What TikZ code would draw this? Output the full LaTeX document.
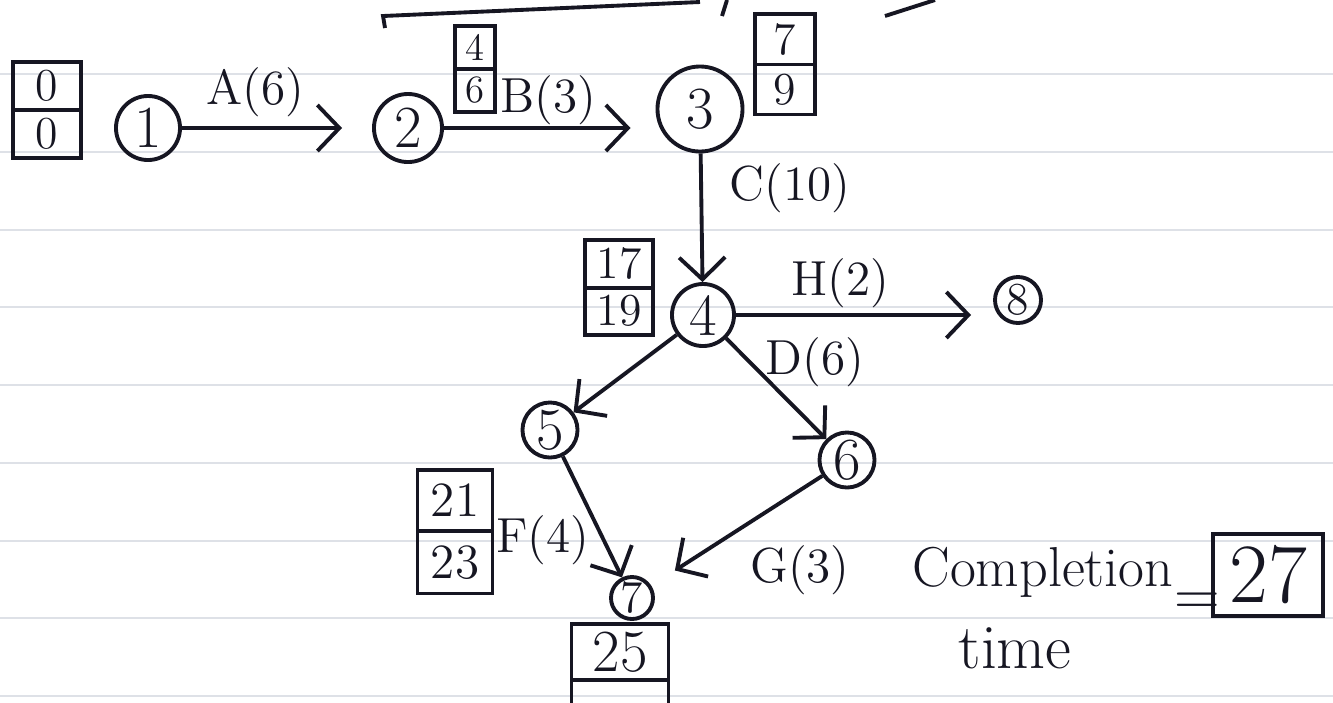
\documentclass[tikz,border=0pt]{standalone}
\usetikzlibrary{arrows.meta,shapes.multipart}
\definecolor{inkc}{RGB}{22,22,34}
\definecolor{rulec}{RGB}{222,225,231}
\begin{document}
\begin{tikzpicture}[x=0.01cm,y=-0.01cm,
  ev/.style={circle, draw=inkc, line width=1.1pt, inner sep=0pt, text=inkc, font=\fontsize{17}{19}\selectfont},
  tbox/.style={rectangle split, rectangle split parts=2, draw=inkc, line width=1.1pt, inner xsep=1pt, inner ysep=2pt, text=inkc, anchor=north},
  act/.style={draw=inkc, line width=1.1pt, -{Straight Barb[length=2.2mm,width=4.6mm]}},
  lbl/.style={text=inkc, inner sep=1pt, font=\fontsize{14}{16}\selectfont},
  inkline/.style={draw=inkc, line width=1.1pt}]
\useasboundingbox (0,0) rectangle (1333,702);
\clip (0,0) rectangle (1333,702);
\fill[white] (0,0) rectangle (1333,702);
% ruled paper
\foreach \yy in {74,152,230,307,385,463,541,618,696}
  \draw[rulec, line width=0.8pt] (0,\yy) -- (1333,\yy);
% fragments at the top edge
\draw[inkline] (385,28) -- (383,16) -- (700,2);
\draw[inkline] (722,16) -- (727,0);
\draw[inkline] (885,16) -- (935,0);
% events
\node[ev, minimum size=0.64cm] (n1) at (148,128) {1};
\node[ev, minimum size=0.68cm] (n2) at (408,128) {2};
\node[ev, minimum size=0.85cm] (n3) at (700,109) {3};
\node[ev, minimum size=0.62cm] (n4) at (703,315) {4};
\node[ev, minimum size=0.46cm, font=\fontsize{13}{15}\selectfont] (n8) at (1018,300) {8};
\node[ev, minimum size=0.55cm] (n5) at (550,430) {5};
\node[ev, minimum size=0.55cm] (n6) at (847,460) {6};
\node[ev, minimum size=0.42cm, font=\fontsize{13}{15}\selectfont] (n7) at (632,598) {7};
% time boxes
\node[tbox, minimum width=0.68cm, inner ysep=1.8pt, font=\fontsize{13}{15}\selectfont] (b1) at (47,60) {0\nodepart{two}0};
\node[tbox, minimum width=0.40cm, inner ysep=1.8pt, font=\fontsize{11}{13}\selectfont] (b2) at (475,24) {4\nodepart{two}6};
\node[tbox, minimum width=0.60cm, inner ysep=2.1pt, font=\fontsize{13}{15}\selectfont] (b3) at (785,12) {7\nodepart{two}9};
\node[tbox, minimum width=0.68cm, inner ysep=1.7pt, font=\fontsize{13}{15}\selectfont] (b4) at (619,238) {17\nodepart{two}19};
\node[tbox, minimum width=0.75cm, inner ysep=3.5pt, font=\fontsize{14}{16}\selectfont] (b7) at (455,468) {21\nodepart{two}23};
\node[tbox, minimum width=0.97cm, inner ysep=1.7pt, font=\fontsize{17}{19}\selectfont] (b7b) at (620,622) {25\nodepart{two}\phantom{25}};
% activities
\draw[act, shorten >=0.3cm] (n1) -- (n2);
\draw[act, shorten >=0.25cm] (n2.east) -- (n2.east -| n3.west);
\draw[act] (n3) -- (n4);
\draw[act, shorten >=0.22cm] (n4.east) -- (n4.east -| n8.west);
\draw[act] (n4) -- (n6);
\draw[act] (n4) -- (n5);
\draw[act] (n5) -- (n7);
\draw[act, shorten >=0.28cm] (n6) -- (n7);
% activity labels
\node[lbl] (lA) at (255,92) {A(6)};
\node[lbl] (lB) at (548,100) {B(3)};
\node[lbl] (lC) at (790,188) {C(10)};
\node[lbl] (lH) at (840,283) {H(2)};
\node[lbl] (lD) at (815,362) {D(6)};
\node[lbl] (lF) at (543,540) {F(4)};
\node[lbl] (lG) at (800,570) {G(3)};
% completion time
\node[text=inkc, inner sep=0pt, font=\fontsize{16}{18}\selectfont] (ct1) at (1043,572) {Completion};
\node[text=inkc, inner sep=0pt, font=\fontsize{18}{20}\selectfont] (ct2) at (1015,648) {time};
\node[text=inkc, inner sep=0pt, font=\fontsize{18}{20}\selectfont] (eq) at (1197,604) {=};
\node[draw=inkc, line width=1.1pt, minimum width=1.1cm, minimum height=0.8cm, text=inkc, font=\fontsize{24}{26}\selectfont] (b27) at (1268,575) {27};
\end{tikzpicture}
\end{document}
